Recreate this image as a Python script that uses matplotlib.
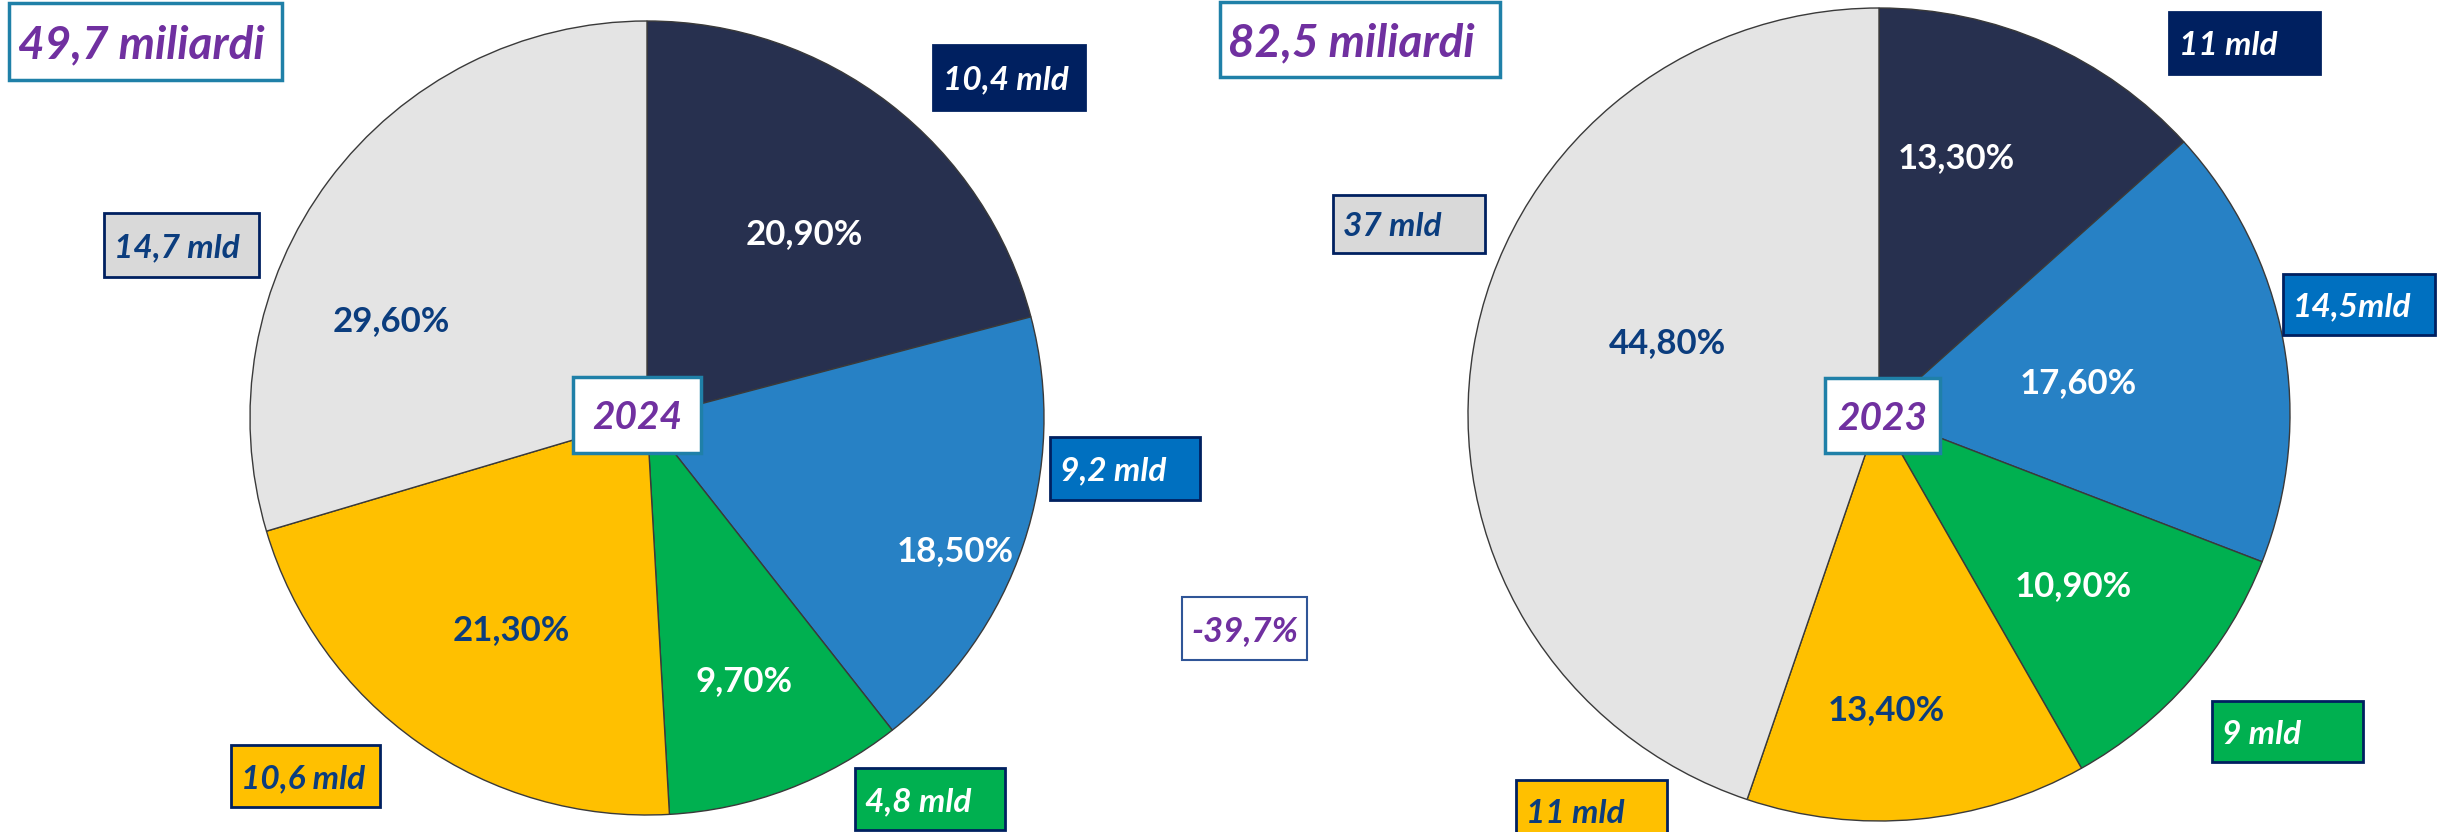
import matplotlib
matplotlib.use("Agg")
import matplotlib.pyplot as plt
from matplotlib.patches import Rectangle

plt.rcParams['font.family'] = ['Lato', 'DejaVu Sans']

# data
segments = ["Navy", "Blu", "Verde", "Giallo", "Grigio"]
share_2024 = [20.9, 18.5, 9.7, 21.3, 29.6]
share_2023 = [13.3, 17.6, 10.9, 13.4, 44.8]
amounts_2024 = ["10,4 mld", "9,2 mld", "4,8 mld", "10,6 mld", "14,7 mld"]
amounts_2023 = ["11 mld", "14,5mld", "9 mld", "11 mld", "37 mld"]
total_2024 = "49,7 miliardi"
total_2023 = "82,5 miliardi"
change = "-39,7%"

W, H = 2443, 832
pie_colors = ["#27304F", "#2781C5", "#00B050", "#FFC000", "#E4E4E4"]
box_colors = ["#002060", "#0070C0", "#00B050", "#FFC000", "#D9D9D9"]
dark_text = "#0B3D7E"
text_colors = ["white", "white", "white", dark_text, dark_text]
purple = "#7030A0"
teal = "#1F80A8"

fig = plt.figure(figsize=(W / 100, H / 100), dpi=100)


def frac(x0, y0, x1, y1):
    return x0 / W, 1 - y1 / H, (x1 - x0) / W, (y1 - y0) / H


def box(x0, y0, x1, y1, text, fc, ec, tc, size, lw=2, align="left", pad=10):
    l, b, w, h = frac(x0, y0, x1, y1)
    fig.add_artist(Rectangle((l, b), w, h, transform=fig.transFigure,
                             facecolor=fc, edgecolor=ec, linewidth=lw, zorder=5))
    if align == "left":
        tx, ha = (x0 + pad) / W, "left"
    else:
        tx, ha = (x0 + x1) / 2 / W, "center"
    fig.text(tx, 1 - (y0 + y1) / 2 / H, text, ha=ha, va="center_baseline",
             color=tc, fontsize=size, fontweight="bold", fontstyle="italic", zorder=6)


def draw_pie(rect, shares, pct_pos):
    ax = fig.add_axes(frac(*rect))
    wedges, _, autotexts = ax.pie(
        shares, colors=pie_colors, startangle=90, counterclock=False,
        autopct=lambda p: f"{p:.2f}%".replace(".", ","),
        wedgeprops=dict(edgecolor="#3A3A3A", linewidth=1),
        textprops=dict(fontsize=25, fontweight="bold"))
    for t, c, pos in zip(autotexts, text_colors, pct_pos):
        t.set_color(c)
        t.set_position(pos)
    ax.set_xlim(-1, 1)
    ax.set_ylim(-1, 1)
    ax.set_aspect("auto")
    ax.axis("off")
    return ax


# label positions inside the pies (unit circle coords)
pos_2024 = [(0.397, 0.464), (0.777, -0.335), (0.245, -0.663), (-0.342, -0.534), (-0.644, 0.245)]
pos_2023 = [(0.189, 0.632), (0.485, 0.077), (0.473, -0.421), (0.019, -0.728), (-0.515, 0.176)]

draw_pie((250, 21, 1044, 815), share_2024, pos_2024)
draw_pie((1468, 8, 2290, 821), share_2023, pos_2023)

# totals and year boxes
box(9, 3, 282, 80, total_2024, "white", teal, purple, 33, lw=2.5, pad=9)
box(1220, 2, 1500, 77, total_2023, "white", teal, purple, 33, lw=2.5, pad=8)
box(573, 377, 701, 453, "2024", "white", teal, purple, 28, lw=2.5, align="center")
box(1825, 378, 1940, 453, "2023", "white", teal, purple, 28, lw=2.5, align="center")
box(1182, 597, 1307, 660, change, "white", "#2F5597", purple, 25, lw=1.5, align="center")

# amount boxes
boxes_2024 = [(933, 45, 1085, 110), (1050, 437, 1200, 500), (855, 768, 1005, 830),
              (231, 745, 380, 807), (104, 213, 259, 277)]
boxes_2023 = [(2169, 12, 2320, 74), (2283, 274, 2435, 335), (2212, 701, 2363, 762),
              (1516, 780, 1667, 842), (1333, 195, 1485, 253)]
for labels, rects in [(amounts_2024, boxes_2024), (amounts_2023, boxes_2023)]:
    for lab, r, fc, tc in zip(labels, rects, box_colors, text_colors):
        box(*r, lab, fc, "#002060", tc, 24)

fig.savefig("out.png", dpi=100)
